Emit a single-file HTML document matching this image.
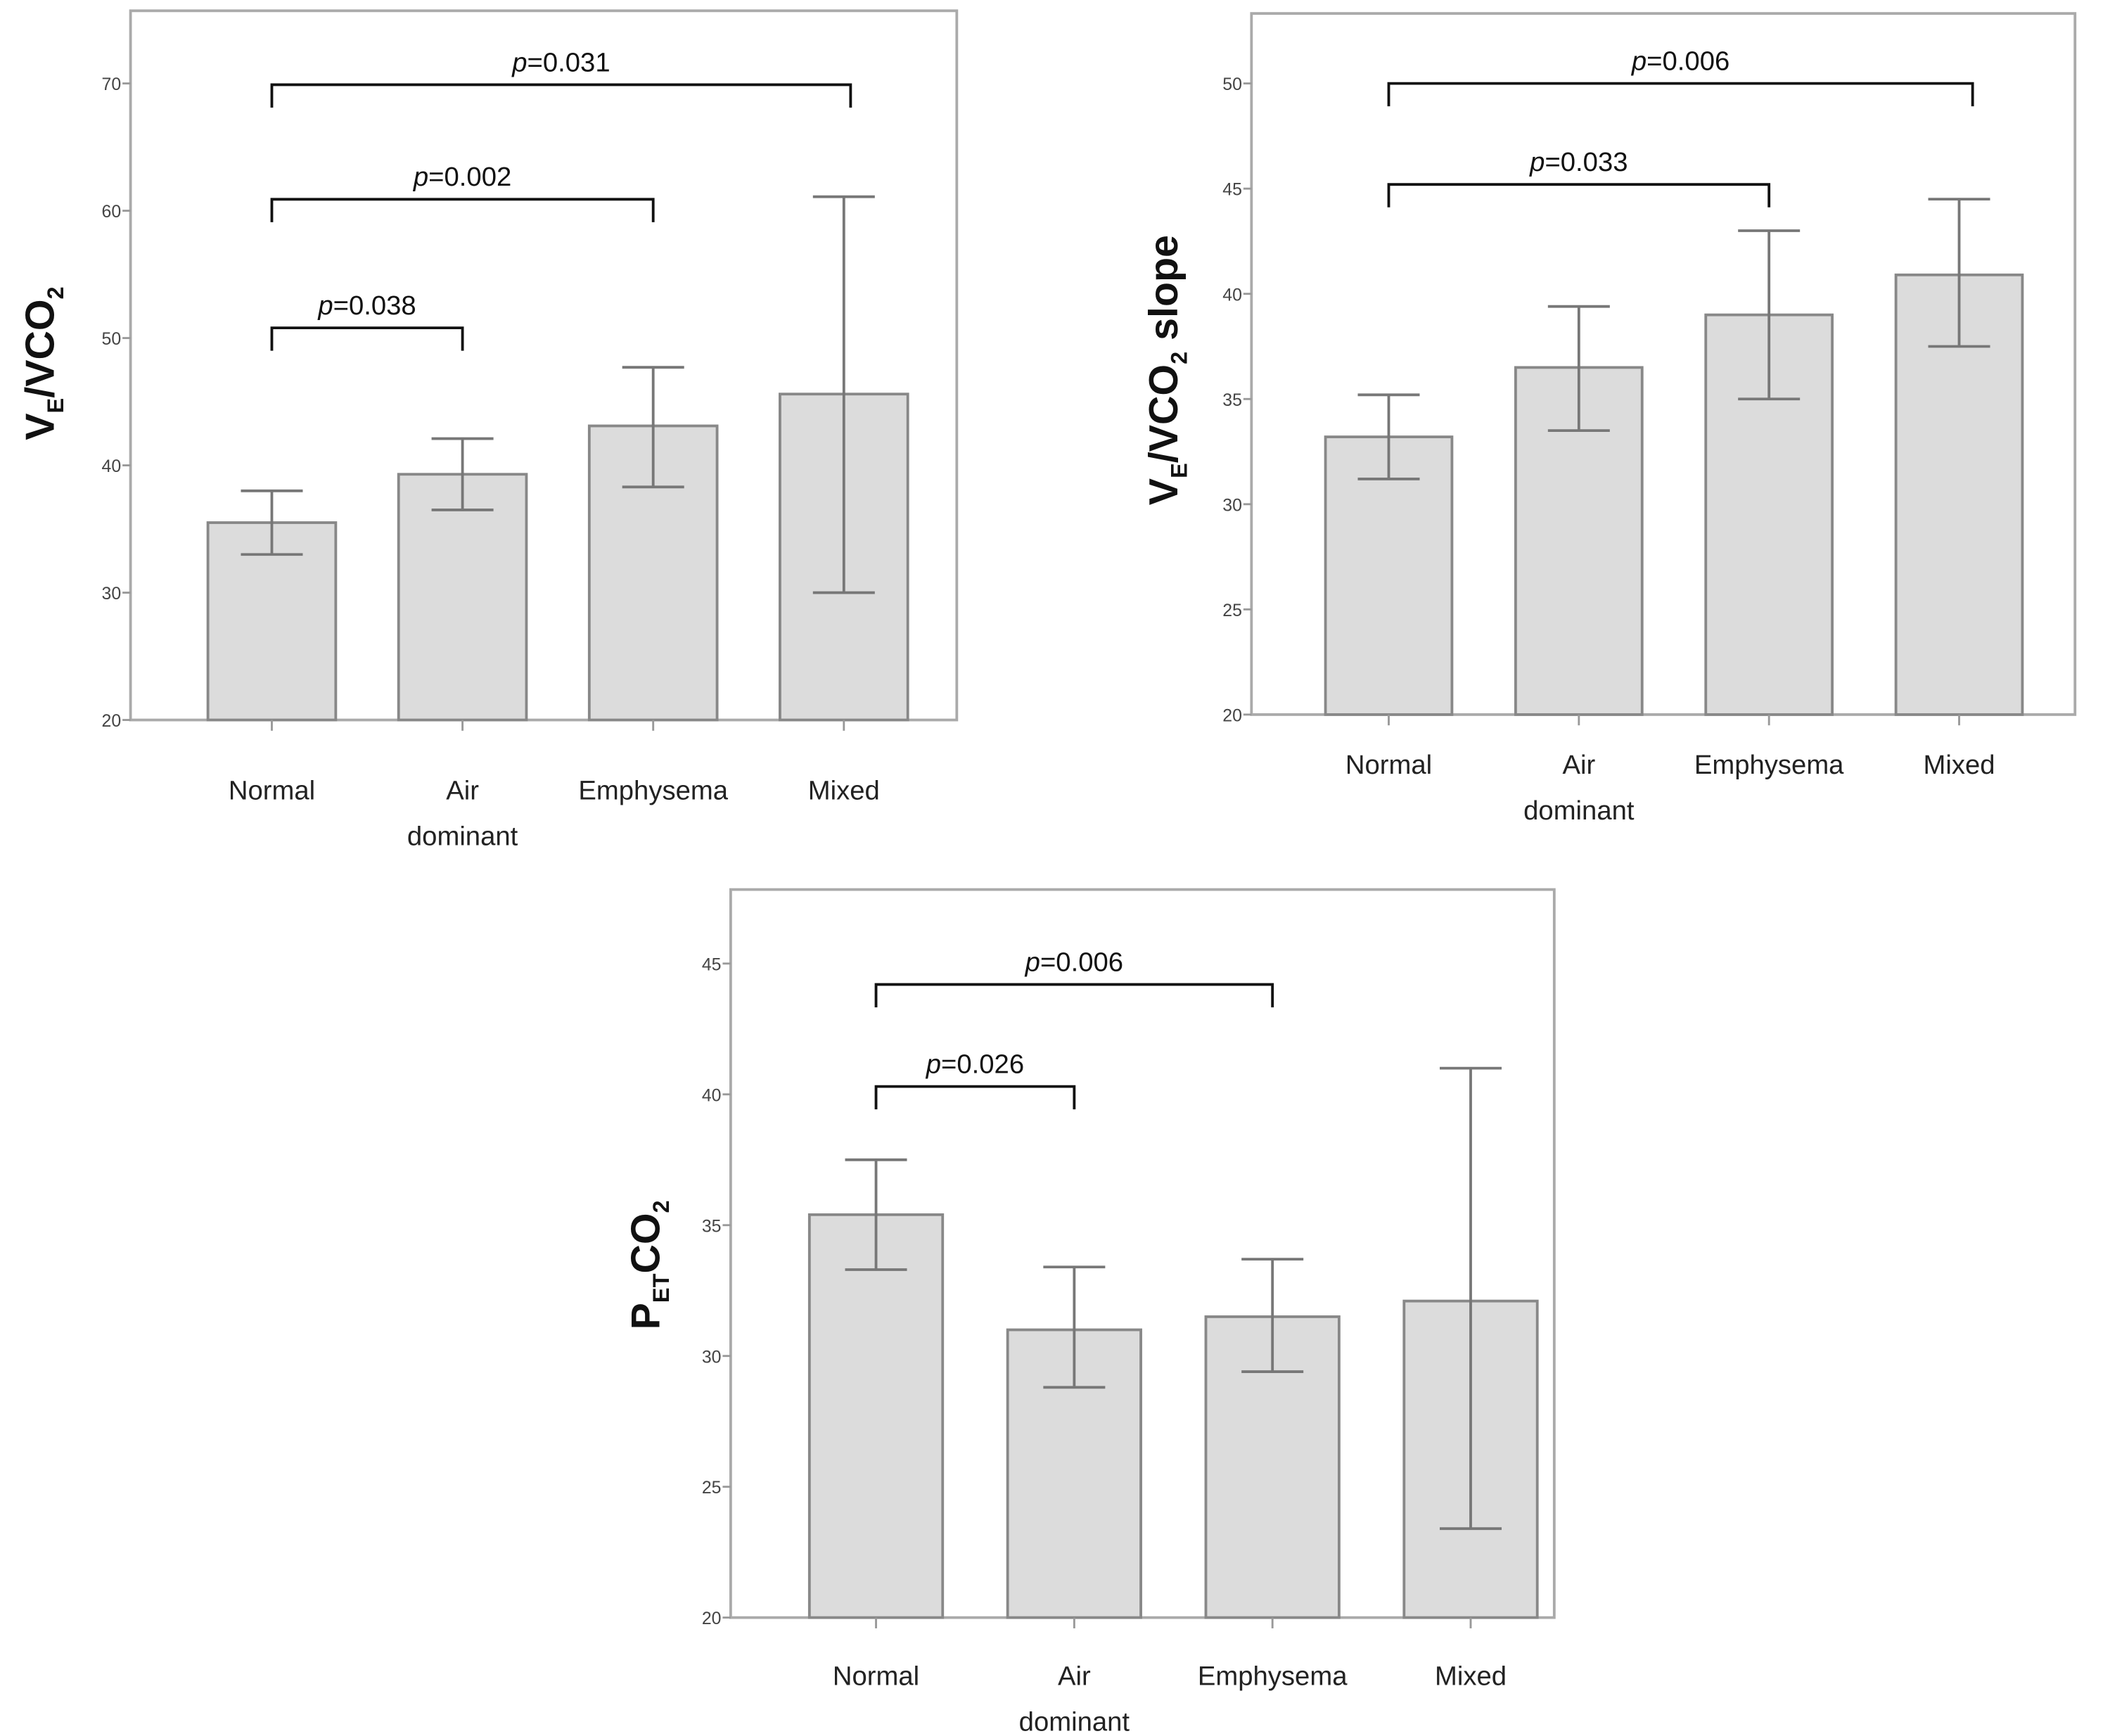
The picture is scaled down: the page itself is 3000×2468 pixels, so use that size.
<!DOCTYPE html>
<html><head><meta charset="utf-8"><style>
html,body{margin:0;padding:0;background:#fff;}
svg{display:block;font-family:"Liberation Sans",sans-serif;}
</style></head><body>
<svg id="root" width="3000" height="2468" viewBox="0 0 1568 1290" preserveAspectRatio="none" xmlns="http://www.w3.org/2000/svg"></svg>
<script>
const categories = ["Normal","Air dominant","Emphysema","Mixed"];
const c1Means = [35.5, 39.3, 43.1, 45.6];
const c1Low = [33.0, 36.5, 38.3, 30.0];
const c1High = [38.0, 42.1, 47.7, 61.1];
const c1Ticks = [20,30,40,50,60,70];
const c2Means = [33.2, 36.5, 39.0, 40.9];
const c2Low = [31.2, 33.5, 35.0, 37.5];
const c2High = [35.2, 39.4, 43.0, 44.5];
const c2Ticks = [20,25,30,35,40,45,50];
const c3Means = [35.4, 31.0, 31.5, 32.1];
const c3Low = [33.3, 28.8, 29.4, 23.4];
const c3High = [37.5, 33.4, 33.7, 41.0];
const c3Ticks = [20,25,30,35,40,45];
const c1Brackets = [{a:0,b:1,v:50.8,p:"0.038"},{a:0,b:2,v:60.9,p:"0.002"},{a:0,b:3,v:69.9,p:"0.031"}];
const c2Brackets = [{a:0,b:2,v:45.2,p:"0.033"},{a:0,b:3,v:50.0,p:"0.006"}];
const c3Brackets = [{a:0,b:1,v:40.3,p:"0.026"},{a:0,b:2,v:44.2,p:"0.006"}];

const NS="http://www.w3.org/2000/svg";
const root=document.getElementById('root');
function mk(tag,attrs,parent,text){const e=document.createElementNS(NS,tag);for(const k in attrs)e.setAttribute(k,attrs[k]);if(text!==undefined)e.textContent=text;parent.appendChild(e);return e;}

function chart(cfg){
  const g=mk('g',{},root);
  
  
  const ymin=cfg.ticks[0], ymax=cfg.ymax;
  const y=v=>cfg.y0-(v-ymin)*(cfg.y0-cfg.yTop)/(ymax-ymin);
  const xc=i=>cfg.first+cfg.step*i;
  const frame=mk('rect',{x:cfg.x0,y:cfg.top,width:cfg.x1-cfg.x0,height:cfg.y0-cfg.top,fill:'none',stroke:'#aaa','stroke-width':2},g);
  
  
  cfg.ticks.forEach(t=>{
    const tl=mk('line',{x1:cfg.x0-6,x2:cfg.x0,y1:y(t),y2:y(t),stroke:'#999','stroke-width':1.5},g);
    
    
    const tx=mk('text',{x:cfg.x0-7,y:y(t)+5,'text-anchor':'end','font-size':13,fill:'#444'},g,String(t));
    
    
  });
  categories.forEach((c,i)=>{
    const cx=xc(i), w=cfg.bw;
    const b=mk('rect',{x:cx-w/2,y:y(cfg.means[i]),width:w,height:cfg.y0-y(cfg.means[i]),fill:'#dcdcdc',stroke:'#888','stroke-width':2},g);
    
    
    const eg=mk('g',{stroke:'#777','stroke-width':2},g);
    
    
    mk('line',{x1:cx,x2:cx,y1:y(cfg.low[i]),y2:y(cfg.high[i])},eg);
    mk('line',{x1:cx-23,x2:cx+23,y1:y(cfg.low[i]),y2:y(cfg.low[i])},eg);
    mk('line',{x1:cx-23,x2:cx+23,y1:y(cfg.high[i]),y2:y(cfg.high[i])},eg);
    const xt=mk('line',{x1:cx,x2:cx,y1:cfg.y0,y2:cfg.y0+8,stroke:'#999','stroke-width':1.5},g);
    
    
    const parts=c.split(' ');
    const lab=mk('text',{x:cx,y:cfg.labY,'text-anchor':'middle','font-size':20,fill:'#222'},g);
    
    
    parts.forEach((p,k)=>mk('tspan',{x:cx,dy:k?34:0},lab,p));
  });
  cfg.brackets.forEach(br=>{
    const by=y(br.v), xa=xc(br.a), xb=xc(br.b)+(br.b===3&&cfg.name==='chart-ve-vco2'?5:0)+(br.b===3&&cfg.name==='chart-ve-vco2-slope'?10:0);
    const bg=mk('g',{},g);
    
    
    mk('path',{d:`M${xa},${by+17}V${by}H${xb}V${by+17}`,fill:'none',stroke:'#111','stroke-width':2},bg);
    const t=mk('text',{x:(xa+xb)/2,y:by-10,'text-anchor':'middle','font-size':20,fill:'#111'},bg);
    mk('tspan',{'font-style':'italic'},t,'p');
    mk('tspan',{},t,'='+br.p);
  });
  const tg=mk('text',{transform:`translate(${cfg.titleX},${cfg.titleY}) rotate(-90)`,'text-anchor':'middle','font-size':30,'font-weight':'bold',fill:'#111'},g);
  
  
  cfg.title.forEach(([s,sub])=>mk('tspan',sub?{'font-size':17,dy:7}:{},tg,s));
  const ts=[...tg.querySelectorAll('tspan')];
  for(let i=1;i<ts.length;i++){ if(!ts[i].hasAttribute('font-size') && ts[i-1].hasAttribute('font-size')) ts[i].setAttribute('dy',-7); }
}

chart({name:'chart-ve-vco2',x0:97,x1:711,top:8,y0:535,yTop:62,ymax:70,first:202,step:141.7,ticks:c1Ticks,means:c1Means,low:c1Low,high:c1High,bw:95,labY:594,brackets:c1Brackets,titleX:40,titleY:270,
  title:[["V"],["E","d"],["/VCO"],["2","d"]]});
chart({name:'chart-ve-vco2-slope',x0:930,x1:1542,top:10,y0:531,yTop:62,ymax:50,first:1032,step:141.3,ticks:c2Ticks,means:c2Means,low:c2Low,high:c2High,bw:94,labY:575,brackets:c2Brackets,titleX:875,titleY:275,
  title:[["V"],["E","d"],["/VCO"],["2","d"],[" slope"]]});
chart({name:'chart-petco2',x0:543,x1:1155,top:661,y0:1202,yTop:716,ymax:45,first:651,step:147.3,ticks:c3Ticks,means:c3Means,low:c3Low,high:c3High,bw:99,labY:1252,brackets:c3Brackets,titleX:490,titleY:940,
  title:[["P"],["ET","d"],["CO"],["2","d"]]});
</script>
</body></html>
